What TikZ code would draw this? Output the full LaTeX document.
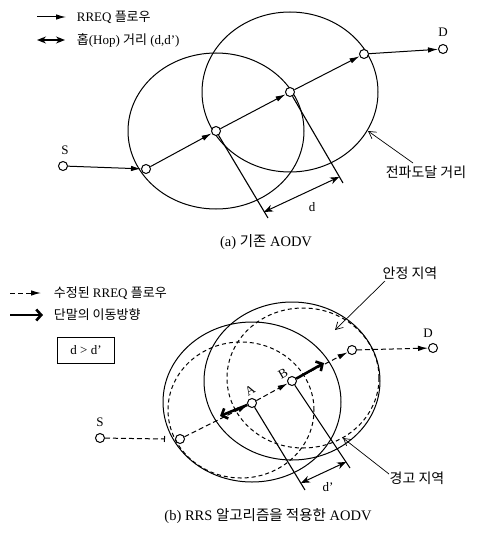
\documentclass[tikz,border=0pt]{standalone}
\usepackage{fontspec}
\setmainfont{Liberation Serif}
\newfontfamily\kr{Noto Sans CJK KR}
\usetikzlibrary{arrows.meta}

\begin{document}
\begin{tikzpicture}[x=1pt, y=-1pt, line width=1pt, font=\fontsize{13}{15}\selectfont,
  stn/.style={circle, draw, fill=white, minimum size=9pt, inner sep=0pt},
  flow/.style={-{Latex[length=10pt,width=5.5pt]}},
  dflow/.style={flow, dash pattern=on 5pt off 3pt},
  hop/.style={{Stealth[length=9pt,width=7pt]}-{Stealth[length=9pt,width=7pt]}},
  move/.style={line width=2.6pt, -{Straight Barb[length=5pt,width=11pt]}},
  note/.style={line width=0.7pt, -{Straight Barb[length=7pt,width=8pt]}},
  perp/.style={line width=1.1pt},
  zone/.style={dash pattern=on 4pt off 3pt},
  tag/.style={font=\fontsize{14}{16}\selectfont},
  capt/.style={font=\fontsize{14.5}{16}\selectfont}]
\useasboundingbox (0,0) rectangle (477,535);

% ---- (a) plain AODV ----
\coordinate (la1) at (37,17); \coordinate (la2) at (66,17);
\draw[flow] (la1) -- (la2);
\node[anchor=west] (ta1) at (73,17) {RREQ {\kr 플로우}};
\coordinate (la3) at (37,40); \coordinate (la4) at (65,40);
\draw[hop, line width=1.4pt] (la3) -- (la4);
\node[anchor=west] (ta2) at (73,40) {{\kr 홉}(Hop) {\kr 거리} (d,d')};

\draw (216,131) ellipse [x radius=88pt, y radius=78pt];
\draw (290,92) ellipse [x radius=88pt, y radius=80pt];

\node[stn] (s1) at (63,166) {};
\node (s1l) at (65,150) {S};
\node[stn] (p1) at (146,169) {};
\node[stn] (p2) at (216,131) {};
\node[stn] (p3) at (290,92) {};
\node[stn] (p4) at (364,54) {};
\node[stn] (d1) at (443,49) {};
\node (d1l) at (443,32) {D};
\foreach \a/\b in {s1/p1,p1/p2,p2/p3,p3/p4,p4/d1}
  \draw[flow] (\a) -- (\b);

\coordinate (e2) at (268,218); \coordinate (e3) at (343,183);
\draw[perp] (p2) -- (e2);
\draw[perp] (p3) -- (e3);
\coordinate (h2) at (264,212); \coordinate (h3) at (339,177);
\draw[hop] (h2) -- (h3);
\node (dl) at (312,207) {d};

\node[tag] (tr) at (426,172) {{\kr 전파도달 거리}};
\coordinate (tra) at (413,163); \coordinate (trb) at (368,131);
\draw[note] (tra) -- (trb);

\node[capt] (capa) at (266,242) {(a) {\kr 기존} AODV};

% ---- (b) AODV with RRS ----
\coordinate (lb1) at (10,293); \coordinate (lb2) at (41,293);
\draw[dflow] (lb1) -- (lb2);
\node[anchor=west] (tb1) at (50,293) {{\kr 수정된} RREQ {\kr 플로우}};
\coordinate (lb3) at (10,315); \coordinate (lb4) at (43,315);
\draw[move] (lb3) -- (lb4);
\node[anchor=west] (tb2) at (50,315) {{\kr 단말의 이동방향}};
\node[draw, minimum width=57pt, minimum height=26pt] (cmp) at (86,350) {d > d'};

\draw (252,402) ellipse [x radius=89pt, y radius=80pt];
\draw (292,381) ellipse [x radius=88pt, y radius=79pt];
\draw[zone] (241,410) ellipse [x radius=73pt, y radius=68pt];
\draw[zone] (303,378) ellipse [x radius=76pt, y radius=70pt];

\node[stn] (s2) at (100,438) {};
\node (s2l) at (100,422) {S};
\node[stn] (q1) at (180,439) {};
\node[stn] (qa) at (252,403) {};
\node[stn] (qb) at (292,381) {};
\node[stn] (q4) at (352,350) {};
\node[stn] (d2) at (433,348) {};
\node (d2l) at (428,333) {D};
\node[rotate=30] (qal) at (250,390) {A};
\node[rotate=30] (qbl) at (283,374) {B};
\coordinate (sb) at (165,439);
\draw[dash pattern=on 5pt off 3pt, -{Bar[width=6pt]}] (s2) -- (sb);
\foreach \a/\b in {q1/qa,qa/qb,qb/q4,q4/d2}
  \draw[dflow] (\a) -- (\b);
\coordinate (ma) at (220,416); \coordinate (mb) at (324,363);
\draw[move] (qa) -- (ma);
\draw[move] (qb) -- (mb);

\coordinate (ea) at (305,490); \coordinate (eb) at (350,468);
\draw[perp] (qa) -- (ea);
\draw[perp] (qb) -- (eb);
\coordinate (ha) at (301,483); \coordinate (hb) at (346,462);
\draw[hop] (ha) -- (hb);
\node (dpl) at (328,487) {d'};

\node[tag] (st) at (410,273) {{\kr 안정 지역}};
\coordinate (sta) at (385,281); \coordinate (stb) at (335,330);
\draw[note] (sta) -- (stb);
\node[tag] (wn) at (417,478) {{\kr 경고 지역}};
\coordinate (wna) at (389,474); \coordinate (wnb) at (343,438);
\draw[note] (wna) -- (wnb);

\node[capt] (capb) at (268,516) {(b) RRS {\kr 알고리즘을 적용한} AODV};
\end{tikzpicture}
\end{document}
